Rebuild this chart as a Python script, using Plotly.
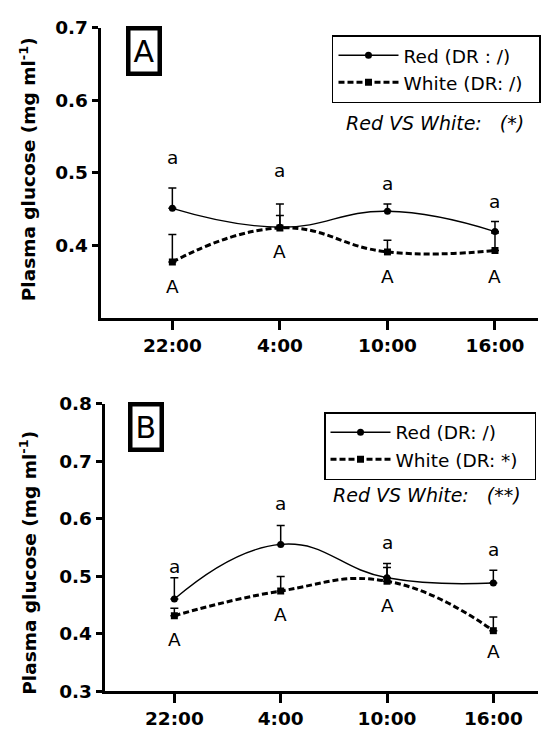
import plotly.graph_objects as go

# Sampling times
times = ["22:00", "4:00", "10:00", "16:00"]

# Panel A: plasma glucose (mg/ml), mean and SEM
a_red_mean = [0.451, 0.425, 0.447, 0.419]
a_red_sem = [0.028, 0.032, 0.010, 0.014]
a_white_mean = [0.377, 0.424, 0.391, 0.393]
a_white_sem = [0.038, 0.017, 0.016, 0.024]

# Panel B: plasma glucose (mg/ml), mean and SEM
b_red_mean = [0.460, 0.555, 0.497, 0.488]
b_red_sem = [0.037, 0.033, 0.025, 0.022]
b_white_mean = [0.431, 0.474, 0.491, 0.405]
b_white_sem = [0.013, 0.025, 0.024, 0.024]

# Significance letters (same for all time points)
red_letters = ["a", "a", "a", "a"]
white_letters = ["A", "A", "A", "A"]
# letter placement (data units)
a_red_letter_y = [0.521, 0.503, 0.485, 0.461]
a_white_letter_y = [0.343, 0.391, 0.357, 0.357]
b_red_letter_y = [0.517, 0.626, 0.559, 0.546]
b_white_letter_y = [0.389, 0.433, 0.448, 0.368]

FONT = "DejaVu Sans, Arial, sans-serif"
W, H = 541, 738
NB = "\u00a0"

fig = go.Figure()


def add_series(mean, sem, name, xa, ya, legend, dashed):
    fig.add_trace(go.Scatter(
        x=times, y=mean, name=name + NB * 2, xaxis=xa, yaxis=ya, legend=legend,
        mode="lines+markers",
        line=dict(color="black", width=3 if dashed else 1.4,
                  dash="6px,3px" if dashed else "solid",
                  shape="spline", smoothing=1.3),
        marker=dict(symbol="square" if dashed else "circle", size=7, color="black"),
        error_y=dict(type="data", symmetric=False, array=sem,
                     arrayminus=[0] * len(sem), color="black",
                     thickness=1.5, width=4),
    ))


add_series(a_red_mean, a_red_sem, "Red (DR : /)", "x", "y", "legend", False)
add_series(a_white_mean, a_white_sem, "White (DR: /)", "x", "y", "legend", True)
add_series(b_red_mean, b_red_sem, "Red (DR: /)", "x2", "y2", "legend2", False)
add_series(b_white_mean, b_white_sem, "White (DR: *)", "x2", "y2", "legend2", True)

annotations = []
letter_font = dict(family=FONT, size=18.5, color="black")
for xr, yr, ry, wy in (("x", "y", a_red_letter_y, a_white_letter_y),
                       ("x2", "y2", b_red_letter_y, b_white_letter_y)):
    for t, lr, lw, y1, y2 in zip(times, red_letters, white_letters, ry, wy):
        for txt, yy in ((lr, y1), (lw, y2)):
            annotations.append(dict(x=t, y=yy, xref=xr, yref=yr, text=txt,
                                    xanchor="center", yanchor="middle",
                                    showarrow=False, font=letter_font))


# panel tags, y titles and comparison notes (positions in pixels)
def px(x):
    return x / W


def py(y):
    return 1 - y / H


for tag, cx, cy in (("A", 145, 41.5), ("B", 147, 428.5)):
    annotations.append(dict(x=px(cx), y=py(cy), xref="paper", yref="paper",
                            xanchor="center", yanchor="middle",
                            text=tag, showarrow=False, borderwidth=4.5,
                            bordercolor="black", borderpad=3,
                            font=dict(family=FONT, size=30, color="black")))

for cy in (163, 568):
    annotations.append(dict(x=px(28), y=py(cy), xref="paper", yref="paper",
                            xanchor="center", yanchor="middle",
                            text="<b>Plasma glucose (mg ml<sup>-1</sup>)</b>",
                            textangle=-90, showarrow=False,
                            font=dict(family=FONT, size=18.5, color="black")))

for txt, rx, cy in (("Red VS White:" + NB * 3 + "(*)", 528, 115),
                    ("Red VS White:" + NB * 3 + "(**)", 525, 498)):
    annotations.append(dict(x=px(rx), y=py(cy), xref="paper", yref="paper",
                            xanchor="right", yanchor="middle",
                            text="<i>%s</i>" % txt, showarrow=False,
                            font=dict(family=FONT, size=19, color="black")))

tick_font = dict(family=FONT, size=18.5, color="black", weight="bold")
xaxis_common = dict(type="category", showline=True, linecolor="black",
                    linewidth=3, ticks="outside", ticklen=9, tickwidth=3,
                    tickcolor="black", showgrid=False, zeroline=False,
                    tickfont=tick_font)
yaxis_common = dict(showline=True, linecolor="black", linewidth=3,
                    ticks="outside", ticklen=6, tickwidth=3, tickcolor="black",
                    showgrid=False, zeroline=False, tickformat=".1f",
                    tickfont=tick_font)

legend_common = dict(bgcolor="white", bordercolor="black", borderwidth=1.5,
                     font=dict(family=FONT, size=18.5, color="black"),
                     xanchor="right", yanchor="top", itemwidth=60,
                     tracegroupgap=0)

fig.update_layout(
    width=W, height=H, margin=dict(l=0, r=0, t=0, b=0),
    paper_bgcolor="white", plot_bgcolor="white",
    showlegend=True,
    xaxis=dict(xaxis_common, domain=[px(101), px(540)], range=[-0.667, 3.4],
               anchor="y"),
    yaxis=dict(yaxis_common, domain=[py(316), py(17)], range=[0.3, 0.7],
               tickvals=[0.4, 0.5, 0.6, 0.7], anchor="x"),
    xaxis2=dict(xaxis_common, domain=[px(105), px(540)], range=[-0.656, 3.42],
                anchor="y2"),
    yaxis2=dict(yaxis_common, domain=[py(700), py(404)], range=[0.3, 0.8],
                tickvals=[0.3, 0.4, 0.5, 0.6, 0.7, 0.8], anchor="x2"),
    legend=dict(legend_common, x=px(543), y=py(25)),
    legend2=dict(legend_common, x=px(538), y=py(413)),
    annotations=annotations,
)

fig.write_html("out.html")
